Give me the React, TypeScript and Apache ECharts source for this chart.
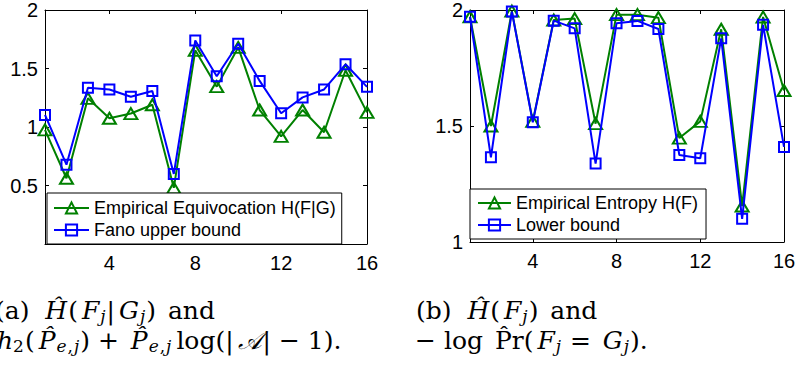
import React, { useEffect, useRef } from 'react';
import * as echarts from 'echarts';

const steps = [1, 2, 3, 4, 5, 6, 7, 8, 9, 10, 11, 12, 13, 14, 15, 16];
const equivocation = [0.975, 0.562, 1.245, 1.075, 1.115, 1.19, 0.48, 1.655, 1.345, 1.68, 1.145, 0.92, 1.145, 0.955, 1.485, 1.125];
const fanoUpper = [1.103, 0.678, 1.335, 1.321, 1.258, 1.307, 0.599, 1.74, 1.434, 1.711, 1.394, 1.117, 1.253, 1.321, 1.536, 1.343];
const entropy = [1.971, 1.5, 1.995, 1.52, 1.957, 1.963, 1.51, 1.98, 1.98, 1.967, 1.448, 1.52, 1.917, 1.155, 1.97, 1.653];
const lowerBound = [1.971, 1.365, 1.993, 1.516, 1.954, 1.921, 1.338, 1.943, 1.953, 1.918, 1.375, 1.361, 1.878, 1.1, 1.936, 1.41];
const xTickValues = [4, 8, 12, 16];
const namesA = ['Empirical Equivocation H(F|G)', 'Fano upper bound'];
const namesB = ['Empirical Entropy H(F)', 'Lower bound'];

const GREEN = '#008000';
const BLUE = '#0000ff';
const SANS = 'Liberation Sans, Arial, Helvetica, sans-serif';
const SERIF = 'DejaVu Serif, DejaVu Sans, serif';

const pairs = (ys: number[]) => steps.map((x, i) => [x, ys[i]]);

const xAx = (gridIndex: number, position: string, labels: boolean) => ({
  type: 'value',
  gridIndex,
  position,
  min: 1,
  max: 16,
  axisLine: { show: true, onZero: false, lineStyle: { color: '#000', width: 1 } },
  axisTick: { show: true, inside: true, length: 4, customValues: xTickValues, lineStyle: { color: '#000', width: 1 } },
  axisLabel: { show: labels, customValues: xTickValues, margin: 9, color: '#000', fontSize: 20, fontFamily: SANS },
  splitLine: { show: false },
});

const yAx = (gridIndex: number, position: string, min: number, labels: boolean) => ({
  type: 'value',
  gridIndex,
  position,
  min,
  max: 2,
  interval: 0.5,
  axisLine: { show: true, onZero: false, lineStyle: { color: '#000', width: 1 } },
  axisTick: { show: true, inside: true, length: 4, lineStyle: { color: '#000', width: 1 } },
  axisLabel: {
    show: labels,
    margin: 7,
    color: '#000',
    fontSize: 20,
    fontFamily: SANS,
    showMinLabel: true,
    showMaxLabel: true,
    formatter: (v: number) => (v === 0 ? '' : String(v)),
  },
  splitLine: { show: false },
});

const lineSeries = (name: string, xi: number, yi: number, ys: number[], color: string, tri: boolean) => ({
  type: 'line',
  name,
  xAxisIndex: xi,
  yAxisIndex: yi,
  data: pairs(ys),
  symbol: tri ? 'triangle' : 'rect',
  symbolSize: tri ? [13, 11] : [10, 10],
  clip: false,
  lineStyle: { color, width: 2 },
  itemStyle: { color: 'rgba(0,0,0,0)', borderColor: color, borderWidth: 2 },
  emphasis: { disabled: true },
  z: tri ? 2 : 3,
});

const legendFor = (names: string[], left: number, top: number, iw: number, pad: number[]) => ({
  data: names,
  left,
  top,
  orient: 'vertical',
  padding: pad,
  itemGap: 4,
  itemWidth: iw,
  itemHeight: 14,
  backgroundColor: '#fff',
  borderColor: '#000',
  borderWidth: 1,
  borderRadius: 0,
  selectedMode: false,
  textStyle: { fontSize: 18, fontFamily: SANS, color: '#000' },
});

const rich = {
  r: { fontFamily: SERIF, fontSize: 25, lineHeight: 29, fill: '#000' },
  i: { fontFamily: SERIF, fontSize: 25, fontStyle: 'italic', lineHeight: 29, fill: '#000', padding: [0, 1, 0, 4] },
  i0: { fontFamily: SERIF, fontSize: 25, fontStyle: 'italic', lineHeight: 29, fill: '#000', padding: [0, 0, 0, 1] },
  s: { fontFamily: SERIF, fontSize: 17, fontStyle: 'italic', lineHeight: 12, verticalAlign: 'bottom', fill: '#000', padding: [0, 1, 0, 0] },
  n: { fontFamily: SERIF, fontSize: 17, lineHeight: 12, verticalAlign: 'bottom', fill: '#000', padding: [0, 1, 0, 0] },
  sp: { fontFamily: SERIF, fontSize: 25, lineHeight: 29, fill: '#000', padding: [0, 2, 0, 2] },
  lg: { fontFamily: SERIF, fontSize: 25, lineHeight: 29, fill: '#000', padding: [0, 0, 0, 4] },
};

const H = '\u0124';
const Ph = 'P\u0302';
const capA1 = `{r|(a)}{sp| }{i|${H}}{r|(}{i|F}{s|j}{r||}{i|G}{s|j}{r|)}{sp| }{r|and}`;
const capA2 = `{i0|h}{n|2}{r|(}{i|${Ph}}{s|e}{n|,}{s|j}{r|) + }{i|${Ph}}{s|e}{n|,}{s|j}{lg|log(|}{i|\u{1D49C}}{r|| \u2212 1).}`;
const capB1 = `{r|(b)}{sp| }{i|${H}}{r|(}{i|F}{s|j}{r|)}{sp| }{r|and}`;
const capB2 = `{r|\u2212 log}{sp| }{r|${Ph}r}{r|(}{i|F}{s|j}{r| = }{i|G}{s|j}{r|).}`;

const caption = (text: string, x: number, y: number) => ({
  type: 'text',
  x,
  y,
  silent: true,
  style: { text, rich, fontFamily: SERIF, fontSize: 25, fill: '#000', align: 'left', verticalAlign: 'middle' },
});

export default function App() {
  const ref = useRef<HTMLDivElement>(null);
  useEffect(() => {
    if (!ref.current) return;
    const chart = echarts.init(ref.current, undefined, { renderer: 'svg' });
    chart.setOption({
      animation: false,
      backgroundColor: '#fff',
      grid: [
        { left: 45, top: 9, width: 322, height: 235 },
        { left: 470, top: 10, width: 314, height: 232 },
      ],
      xAxis: [xAx(0, 'bottom', true), xAx(0, 'top', false), xAx(1, 'bottom', true), xAx(1, 'top', false)],
      yAxis: [yAx(0, 'left', 0, true), yAx(0, 'right', 0, false), yAx(1, 'left', 1, true), yAx(1, 'right', 1, false)],
      legend: [
        legendFor(namesA, 47, 193, 35, [6, 6, 5, 6]),
        legendFor(namesB, 470, 189, 33, [5, 8, 5, 7]),
      ],
      series: [
        lineSeries(namesA[0], 0, 0, equivocation, GREEN, true),
        lineSeries(namesA[1], 0, 0, fanoUpper, BLUE, false),
        lineSeries(namesB[0], 2, 2, entropy, GREEN, true),
        lineSeries(namesB[1], 2, 2, lowerBound, BLUE, false),
      ],
      graphic: [
        caption(capA1, -5, 310),
        caption(capA2, -4, 340),
        caption(capB1, 416, 310),
        caption(capB2, 415, 340),
      ],
    });
    return () => chart.dispose();
  }, []);
  return <div ref={ref} style={{ position: 'absolute', left: 0, top: 0, width: 799, height: 374, background: '#fff' }} />;
}
